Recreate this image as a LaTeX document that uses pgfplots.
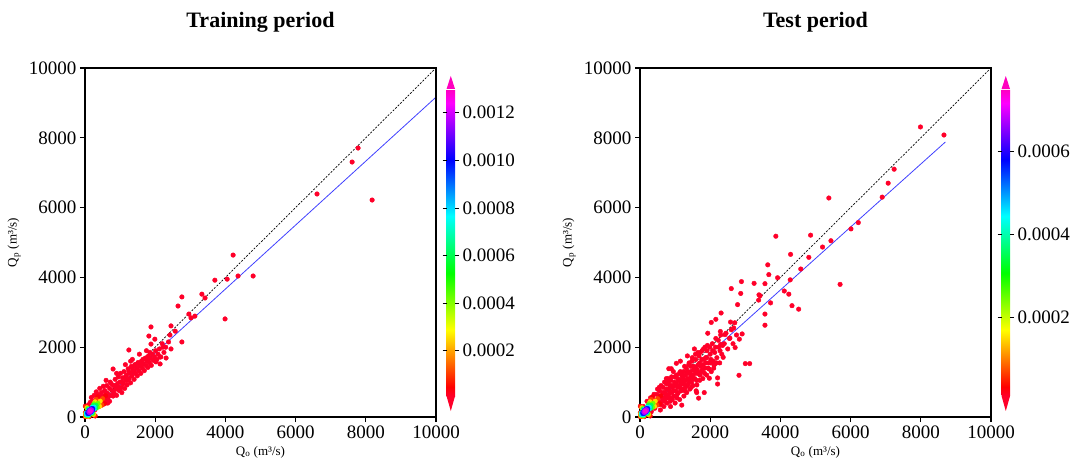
\documentclass[border=0pt]{standalone}
\usepackage{fontspec}
\setmainfont{Liberation Serif}
\usepackage{pgfplots}
\pgfplotsset{compat=1.18}

\definecolor{lowred}{rgb}{1,0,0.16}
\definecolor{topmag}{rgb}{1,0,0.75}
\definecolor{fitblue}{rgb}{0.25,0.25,1}

% matplotlib gist_rainbow
\pgfplotsset{
  colormap={gistrainbow}{rgb(0pt)=(1,0,0.16) rgb(30pt)=(1,0,0) rgb(215pt)=(1,1,0) rgb(400pt)=(0,1,0) rgb(586pt)=(0,1,1) rgb(770pt)=(0,0,1) rgb(954pt)=(1,0,1) rgb(1000pt)=(1,0,0.75)},
  panel/.style={
    scale only axis, width=351pt, height=349pt,
    anchor=south west,
    xmin=0, xmax=10000, ymin=0, ymax=10000,
    xtick={0,2000,4000,6000,8000,10000},
    ytick={0,2000,4000,6000,8000,10000},
    scaled ticks=false,
    xtick pos=left, ytick pos=left,
    tick align=outside, major tick length=5pt,
    every tick/.style={black, line width=1.3pt},
    axis line style={line width=1.5pt},
    axis on top,
    ticklabel style={font=\fontsize{19}{19}\selectfont},
    /pgf/number format/assume math mode=true,
    /pgf/number format/1000 sep={},
    every axis title/.style={at={(axis description cs:0.5,1.132)}, anchor=center, font=\fontsize{22}{22}\selectfont\bfseries},
    every axis x label/.style={at={(axis description cs:0.5,-0.1)}, anchor=center, font=\fontsize{13}{13}\selectfont},
    every axis y label/.style={at={(axis description cs:-0.202,0.5)}, rotate=90, anchor=center, font=\fontsize{13}{13}\selectfont},
    xlabel={Q\textsubscript{o} (m³/s)},
    ylabel={Q\textsubscript{p} (m³/s)},
    colormap name=gistrainbow,
    colorbar,
    colorbar/width=8.5pt,
  },
  cbar/.style={
    scale only axis,
    width=8.5pt, height=307pt,
    at={(parent axis.east)}, anchor=west, xshift=2pt,
    axis line style={draw=none},
    scaled y ticks=false,
    yticklabel pos=right,
    tick align=outside, major tick length=4pt,
    ytick style={black, line width=0.6pt},
    yticklabel style={font=\fontsize{19}{19}\selectfont, /pgf/number format/.cd, fixed, fixed zerofill, precision=4, assume math mode=true},
    clip=false,
    extra description/.code={
      \fill[topmag] (axis description cs:0,1) -- (axis description cs:1,1) -- ([yshift=13pt]axis description cs:0.5,1) -- cycle;
      \fill[lowred] (axis description cs:0,0) -- (axis description cs:1,0) -- ([yshift=-15pt]axis description cs:0.5,0) -- cycle;
    },
  },
  dots/.style={only marks, mark=*, mark size=2.3pt, color=lowred},
  dens/.style={scatter, only marks, mark=*, mark size=2.3pt, scatter src=explicit,
    scatter/use mapped color={draw=mapped color, fill=mapped color}},
}

% density rings near the origin (x y c), c given as a fraction of the colour range
\pgfplotstableread{
x y c
588 608 0.02
360 580 0.02
9 311 0.02
10 120 0.02
10 10 0.02
120 10 0.02
291 29 0.02
560 380 0.02
504 524 0.08
320 500 0.08
37 283 0.08
15 90 0.08
20 20 0.08
90 15 0.08
263 57 0.08
480 340 0.08
433 453 0.19
285 435 0.19
58 262 0.19
25 100 0.19
30 35 0.19
95 25 0.19
242 78 0.19
415 305 0.19
369 389 0.32
255 375 0.32
79 241 0.32
35 105 0.32
40 50 0.32
100 40 0.32
221 99 0.32
355 275 0.32
313 333 0.46
228 323 0.46
97 223 0.46
40 110 0.46
45 60 0.46
105 55 0.46
203 117 0.46
303 248 0.46
263 283 0.6
203 278 0.6
111 209 0.6
42 117 0.6
50 70 0.6
97 62 0.6
189 131 0.6
258 223 0.6
221 241 0.76
183 238 0.76
125 195 0.76
82 137 0.76
79 99 0.76
117 102 0.76
175 145 0.76
218 203 0.76
185 205 0.9
166 204 0.9
137 183 0.9
116 152 0.9
115 135 0.9
134 136 0.9
163 157 0.9
184 186 0.9
150 170 0.98
}\rings

\begin{document}
\begin{tikzpicture}
\path (0,0) rectangle (1078pt,466pt);

% ---------------- Training period ----------------
\begin{axis}[panel, at={(85pt,49pt)}, title={Training period},
  point meta min=0, point meta max=1,
  colorbar style={cbar, point meta min=0.00001, point meta max=0.0013,
    ytick={0.0002,0.0004,0.0006,0.0008,0.0010,0.0012}}]
\addplot[dots] table {
100 350
120 250
200 450
250 300
280 200
350 550
400 300
450 600
500 350
550 550
650 400
400 450
600 700
800 600
150 420
180 560
220 330
260 620
300 480
320 720
360 380
380 640
420 820
430 520
470 700
480 420
520 880
540 600
560 760
590 470
620 900
640 680
660 560
700 820
720 1000
740 620
770 760
800 1375
810 900
830 680
860 1080
880 800
900 620
930 960
950 1150
970 760
1000 1000
1010 1250
1030 850
1050 700
1070 1120
1090 950
1110 1300
1130 820
1160 1050
1180 1200
1200 920
1230 1380
1250 1920
1260 1100
1280 1250
1300 980
1320 1450
1340 1180
1370 1320
1400 1080
1420 1500
1440 1250
1470 1400
1490 1180
1510 1560
1540 1320
1560 1450
1590 1250
1610 1600
1640 1400
1660 1520
1690 1330
1710 1680
1740 1480
1760 1600
1790 1420
1810 1750
1840 1550
1870 1680
1890 1480
1920 1800
1950 1620
1980 1720
2010 1900
2050 1650
2080 1800
2120 1950
2160 1720
2200 2100
2250 1850
2300 2000
2380 2150
2450 1950
600 1050
700 450
900 1250
1150 1500
1350 1650
1550 1800
1750 1900
1300 1600
750 950
850 900
950 850
1050 1000
1150 1150
1250 1300
1350 1400
1450 1500
1550 1550
1650 1650
1750 1700
1850 1850
1000 800
1200 1050
1400 1300
1600 1500
1800 1650
1880 2580
1820 2320
1990 2230
1880 2090
2220 2000
2140 1720
2310 1690
2020 1580
2140 1520
2420 2350
2570 2460
2450 2610
2760 2150
2650 3180
2760 3440
2960 2950
3020 2840
3130 2890
3330 3520
3420 3410
3700 3920
3990 2810
4050 3950
4220 4640
4360 4040
4790 4040
6610 6390
7610 7306
7780 7707
8180 6217
};
\addplot[dens] table[x=x, y=y, meta=c] {\rings};
\addplot[black, line width=0.7pt, dash pattern=on 2pt off 1.5pt] coordinates {(0,0) (10000,10000)};
\addplot[fitblue, line width=0.8pt] coordinates {(0,0) (10000,9165)};
\end{axis}

% ---------------- Test period ----------------
\begin{axis}[panel, at={(640pt,49pt)}, title={Test period},
  point meta min=0, point meta max=1,
  colorbar style={cbar, point meta min=0.00001, point meta max=0.00075,
    ytick={0.0002,0.0004,0.0006}}]
\addplot[dots] table {
100 300
150 150
200 450
250 250
300 550
320 150
350 380
400 650
420 250
450 480
500 800
520 350
550 600
580 200
600 900
620 450
650 700
680 300
700 1000
720 550
750 800
770 400
800 1100
820 650
850 900
870 300
890 1384
820 1384
900 1150
920 500
950 750
980 1000
1000 400
1035 1538
1040 1200
1060 650
1080 850
1100 1050
1130 500
1150 1300
1170 750
1190 340
1200 950
1230 1150
1250 600
1270 1450
1290 850
1310 1050
1330 700
1350 1300
1380 950
1400 1550
1420 800
1450 1150
1470 1000
1490 1700
1510 900
1530 1350
1560 1100
1580 1800
1600 750
1620 920
1640 1250
1660 1500
1670 540
1700 1050
1720 1850
1740 1300
1760 1650
1790 1100
1810 1950
1830 700
1850 1400
1870 1700
1900 1200
1920 2050
1950 1550
1970 1375
1975 1110
2000 1800
2030 1300
2060 2100
2090 1600
2110 1490
2130 1850
2160 2250
2190 1700
2210 1120
2210 945
2240 2000
2270 1550
2300 2350
2330 1800
2370 1710
2400 2100
2450 2400
2500 1950
2550 2250
2600 2500
2650 2100
2700 2700
2750 2350
400 400
500 500
600 600
700 700
800 800
900 900
1000 900
1100 900
1200 1100
1300 1200
1400 1250
1500 1200
1600 1400
1700 1550
1800 1500
1900 1700
2000 1550
550 850
750 1100
950 1300
1150 1600
1350 1750
1550 1950
850 550
1050 550
1250 950
1450 1450
1650 1850
1850 2000
350 250
450 350
480 650
530 450
560 750
610 350
640 550
660 850
710 450
730 650
760 950
790 550
810 1000
840 750
860 450
880 1050
910 700
930 850
960 600
990 1150
1010 750
1030 950
1070 1100
1090 700
1120 1250
1140 850
1160 1000
1190 1200
1210 800
1240 1300
1260 1050
1280 750
1320 1400
1340 900
1360 1100
1390 1500
1410 1050
1440 1300
1460 850
1480 1600
1520 1100
1540 1450
1570 1250
1590 1650
1610 1050
1630 1350
1680 1750
1710 1200
1730 1450
1770 1900
1780 1350
1820 1650
1840 1250
1880 1550
1910 1900
1940 1400
1990 2000
2020 1650
2070 1900
2100 1400
2150 2000
2180 1550
2230 2200
2280 1900
2350 2050
1930 2400
2160 2800
2030 2710
2310 2980
2580 2720
2670 2550
2290 2450
2420 2360
2910 2380
2830 2230
2560 2260
2710 1990
2300 2080
3000 1530
3125 1530
2820 1195
2110 1490
1615 700
2600 3680
2870 3540
2890 3880
3250 3830
3560 3820
3390 3500
3380 3350
3720 3270
2780 3220
3560 2950
3560 2630
3420 3475
3640 4360
3670 4080
3920 3990
4280 3930
4110 3610
4240 3520
4330 3190
4520 3090
4580 4240
4290 4660
4810 4575
5700 3800
3870 5180
4860 5210
5200 4870
5440 5050
6010 5390
6220 5570
5380 6275
6900 6300
7070 6700
7240 7100
7990 8310
8660 8080
};
\addplot[dens] table[x=x, y=y, meta=c] {\rings};
\addplot[black, line width=0.7pt, dash pattern=on 2pt off 1.5pt] coordinates {(0,0) (10000,10000)};
\addplot[fitblue, line width=0.8pt] coordinates {(0,30) (8700,7880)};
\end{axis}
\end{tikzpicture}
\end{document}
